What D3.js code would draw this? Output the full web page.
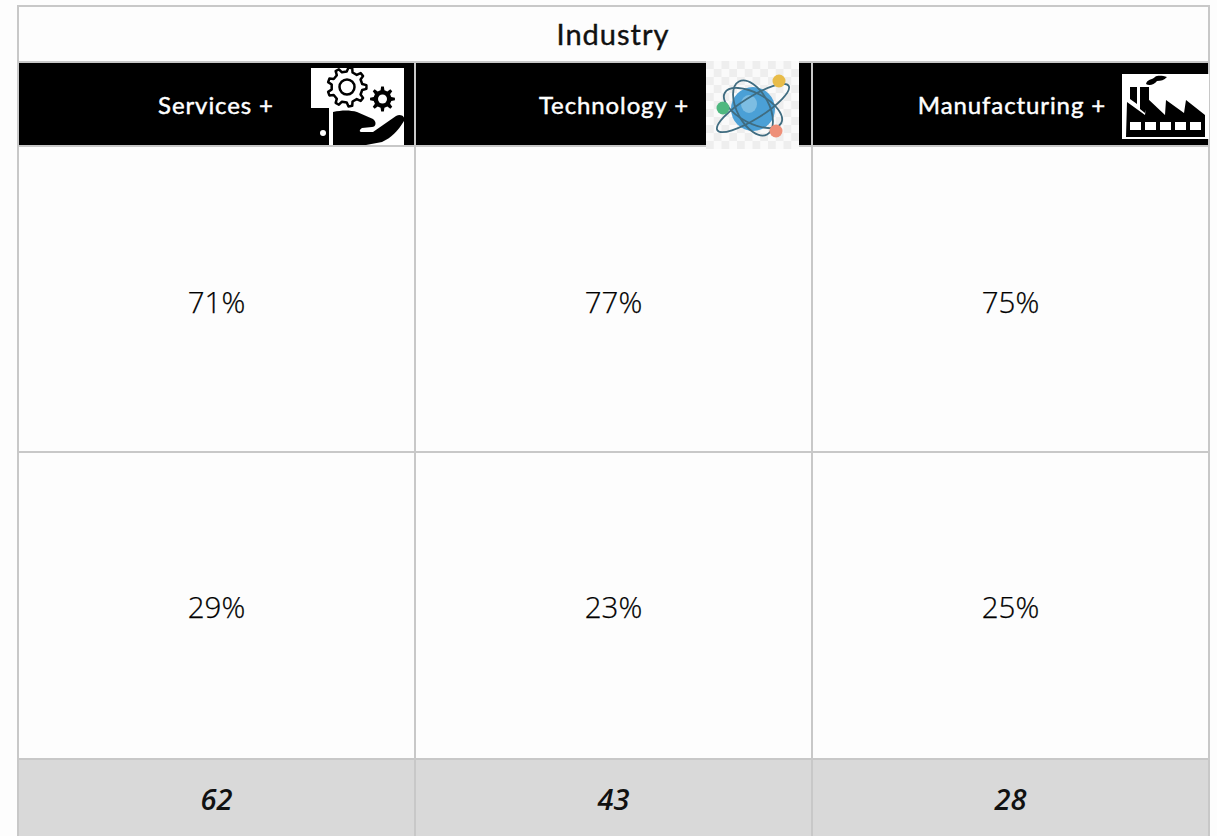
<!DOCTYPE html>
<html>
<head>
<meta charset="utf-8">
<script src="https://cdn.jsdelivr.net/npm/d3@7"></script>
<style>
    html, body { margin: 0; padding: 0; background: #fdfdfd; overflow: hidden; }
    text { font-family: "Open Sans", sans-serif; text-anchor: middle; }
    text.lato { font-family: Lato, sans-serif; }
</style>
</head>
<body>
<div id="chart"></div>
<script>
var title = 'Industry';
var industries = ['Services +', 'Technology +', 'Manufacturing +'];
var topShare = ['71%', '77%', '75%'];
var bottomShare = ['29%', '23%', '25%'];
var totals = ['62', '43', '28'];

var rowNames = ['title', 'head', 'top', 'bottom', 'total'];
var rowEdges = [6, 62, 146, 452, 759, 836];
var border = '#c8c8c8';

var svg = d3.select('#chart').append('svg')
    .attr('width', 1217)
    .attr('height', 836);

var defs = svg.append('defs');
defs.append('filter').attr('id', 'soft')
    .append('feGaussianBlur').attr('stdDeviation', 0.7);
defs.append('filter').attr('id', 'softer')
    .append('feGaussianBlur').attr('stdDeviation', 0.35);

var x = d3.scaleBand().domain(d3.range(3)).range([18, 1209]);
var rowTop = d3.scaleOrdinal().domain(rowNames).range(rowEdges);
var rowH = function(name) {
    var i = rowNames.indexOf(name);
    return rowEdges[i + 1] - rowEdges[i];
};

// fills
svg.append('rect')
    .attr('x', 18).attr('y', rowTop('head'))
    .attr('width', 1191).attr('height', rowH('head'))
    .attr('fill', '#000');
svg.append('rect')
    .attr('x', 18).attr('y', rowTop('total'))
    .attr('width', 1191).attr('height', rowH('total'))
    .attr('fill', '#d9d9d9');

// grid lines
var hLines = [rowTop('title'), rowTop('head'), rowTop('top'), rowTop('bottom'), rowTop('total')];
svg.selectAll('line.h').data(hLines).enter().append('line')
    .attr('class', 'h')
    .attr('x1', 17).attr('x2', 1210)
    .attr('y1', function(d) { return d; })
    .attr('y2', function(d) { return d; })
    .attr('stroke', border).attr('stroke-width', 2);
svg.selectAll('line.v').data([0, 1, 2, 3]).enter().append('line')
    .attr('class', 'v')
    .attr('x1', function(d) { return 18 + d * x.bandwidth(); })
    .attr('x2', function(d) { return 18 + d * x.bandwidth(); })
    .attr('y1', function(d) { return (d === 0 || d === 3) ? rowTop('title') : rowTop('head'); })
    .attr('y2', 836)
    .attr('stroke', border)
    .attr('stroke-width', 2);

// title
svg.append('text')
    .attr('class', 'lato')
    .attr('x', 613).attr('y', 45)
    .attr('font-size', 29)
    .attr('letter-spacing', 1)
    .attr('fill', '#111')
    .attr('stroke', '#111').attr('stroke-width', 0.4)
    .text(title);

// header labels
var headX = [216, 614, 1012];
svg.selectAll('text.head').data(industries).enter().append('text')
    .attr('class', 'head lato')
    .attr('x', function(d, i) { return headX[i]; })
    .attr('y', 114)
    .attr('font-size', 24)
    .attr('letter-spacing', 0.9)
    .attr('fill', '#fff')
    .attr('stroke', '#fff').attr('stroke-width', 0.45)
    .text(function(d) { return d; });

// percentage rows
function drawRow(values, name, base) {
    svg.selectAll('text.' + name).data(values).enter().append('text')
        .attr('class', name)
        .attr('x', function(d, i) { return x(i) + x.bandwidth() / 2; })
        .attr('y', base)
        .attr('font-size', 29.5).attr('font-weight', 300)
        .attr('fill', '#000')
        .attr('stroke', '#000').attr('stroke-width', 0.25)
        .text(function(d) { return d; });
}
drawRow(topShare, 'top', 313);
drawRow(bottomShare, 'bottom', 618);

svg.selectAll('text.total').data(totals).enter().append('text')
    .attr('class', 'total')
    .attr('x', function(d, i) { return x(i) + x.bandwidth() / 2; })
    .attr('y', 810)
    .attr('font-size', 29).attr('font-weight', 600).attr('font-style', 'italic')
    .attr('fill', '#111')
    .text(function(d) { return d; });

// gear outline, used by the services icon
function gearPath(cx, cy, r1, r2, teeth) {
    var pts = [];
    d3.range(teeth).forEach(function(i) {
        var a = i / teeth * 2 * Math.PI, w = Math.PI / teeth * 0.5;
        [[-w * 1.1, r1], [-w * 0.55, r2], [w * 0.55, r2], [w * 1.1, r1]].forEach(function(p) {
            pts.push([cx + p[1] * Math.cos(a + p[0]), cy + p[1] * Math.sin(a + p[0])]);
        });
    });
    return 'M' + pts.join('L') + 'Z';
}

// services icon
var ic1 = svg.append('g').attr('filter', 'url(#softer)');
ic1.append('rect').attr('x', 311).attr('y', 68).attr('width', 93).attr('height', 77).attr('fill', '#fff');
ic1.append('path').attr('d', gearPath(347, 87, 15.5, 19.5, 9))
    .attr('fill', 'none').attr('stroke', '#000').attr('stroke-width', 2.5).attr('stroke-linejoin', 'round');
ic1.append('circle').attr('cx', 347).attr('cy', 87).attr('r', 7.5)
    .attr('fill', 'none').attr('stroke', '#000').attr('stroke-width', 2.5);
ic1.append('path').attr('d', gearPath(382.5, 99, 9, 12.5, 8)).attr('fill', '#000');
ic1.append('circle').attr('cx', 382.5).attr('cy', 99).attr('r', 4.5).attr('fill', '#fff');
ic1.append('path').attr('d', 'M311 108H329V145H311Z').attr('fill', '#000');
ic1.append('circle').attr('cx', 323).attr('cy', 133).attr('r', 3).attr('fill', '#fff');
ic1.append('path')
    .attr('d', 'M333 112C342 110 350 110 357 112L373 119C377 122 376 127 372 127L362 128C359 130 359 132 362 132L373 132L396 116C401 113 406 117 404 121C398 131 391 138 382 142L366 145H333Z')
    .attr('fill', '#000');

// technology icon
var ic2 = svg.append('g').attr('filter', 'url(#soft)');
ic2.append('rect').attr('x', 706).attr('y', 61).attr('width', 93).attr('height', 88).attr('fill', '#fafafa');
var checks = [];
d3.range(11).forEach(function(r) {
    d3.range(12).forEach(function(c) {
        if ((r + c) % 2 === 0) checks.push([c, r]);
    });
});
ic2.selectAll('rect.chk').data(checks).enter().append('rect')
    .attr('class', 'chk')
    .attr('x', function(d) { return 706 + d[0] * 7.75; })
    .attr('y', function(d) { return 61 + d[1] * 8; })
    .attr('width', 7.75).attr('height', 8)
    .attr('fill', '#eeeeee');
ic2.append('circle').attr('cx', 753).attr('cy', 109).attr('r', 22).attr('fill', '#4ba0d6');
ic2.append('ellipse').attr('cx', 749).attr('cy', 104).attr('rx', 8).attr('ry', 9).attr('fill', '#7dbde2');
[[-32, 11, 42], [28, 15, 32], [62, 16, 30]].forEach(function(o) {
    ic2.append('ellipse')
        .attr('cx', 753).attr('cy', 108).attr('rx', o[2]).attr('ry', o[1])
        .attr('transform', 'rotate(' + o[0] + ' 753 108)')
        .attr('fill', 'none').attr('stroke', '#3f6c80').attr('stroke-width', 1.8);
});
ic2.append('circle').attr('cx', 779).attr('cy', 81).attr('r', 6.5).attr('fill', '#e8bc4a');
ic2.append('circle').attr('cx', 723).attr('cy', 108).attr('r', 6.5).attr('fill', '#4fb87f');
ic2.append('circle').attr('cx', 776).attr('cy', 131).attr('r', 6.5).attr('fill', '#ee8f78');

// manufacturing icon
var ic3 = svg.append('g').attr('filter', 'url(#softer)');
ic3.append('rect').attr('x', 1122).attr('y', 74).attr('width', 87).attr('height', 65).attr('fill', '#fff');
ic3.append('path')
    .attr('d', 'M1127 102L1145 115L1147 98L1165 115L1166 100L1184 113L1186 100L1205 115V137H1126Z')
    .attr('fill', '#000');
ic3.append('path').attr('d', 'M1130 87H1137V104L1130 99Z M1140 87H1149V100L1145 113L1140 109Z').attr('fill', '#000');
ic3.append('path').attr('d', 'M1146 84C1147 79 1152 80 1155 77C1158 75 1163 76 1167 77C1164 80 1161 81 1157 81C1154 85 1149 86 1146 84Z').attr('fill', '#000');
ic3.selectAll('rect.win').data(d3.range(5)).enter().append('rect')
    .attr('class', 'win')
    .attr('x', function(d) { return 1130 + d * 15; })
    .attr('y', 122).attr('width', 11).attr('height', 8)
    .attr('fill', '#fff');
</script>
</body>
</html>
